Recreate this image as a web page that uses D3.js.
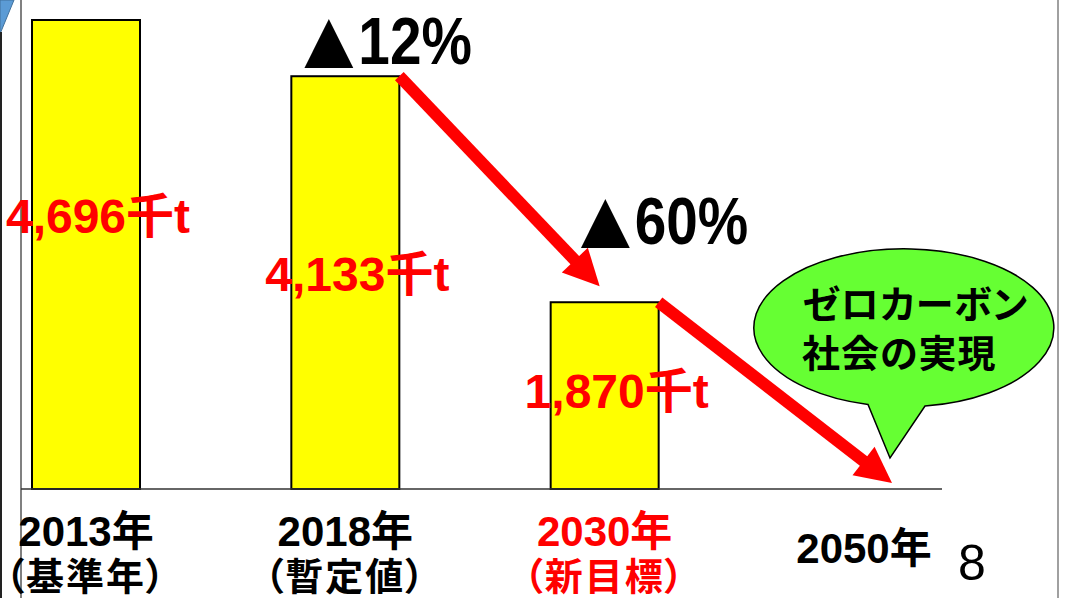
<!DOCTYPE html>
<html>
<head>
<meta charset="utf-8">
<script src="https://cdn.jsdelivr.net/npm/d3@7"></script>
<style>
body { margin: 0; background: #fff; }
svg { display: block; }
text { font-family: "Liberation Sans", "Noto Sans CJK JP", sans-serif; }
.note { font-feature-settings: "palt"; }
.tri { font-family: "DejaVu Sans", "Noto Sans CJK JP", sans-serif; }
</style>
</head>
<body>
<div id="chart"></div>
<script>
// CO2 emissions (thousand t) - base year, provisional, new target, zero carbon
let years = ["2013年", "2018年", "2030年", "2050年"];
let notes = ["（基準年）", "（暫定値）", "（新目標）", ""];
let emissions = [4696, 4133, 1870];
let highlightYear = "2030年";
let bubbleLines = ["ゼロカーボン", "社会の実現"];
let pageNumber = "8";

function graph(id) {
    let width = 1066, height = 598;
    let baseY = 489, topY = 20;
    let barWidth = 108;
    // hand placed label shifts on the slide, relative to bar middle
    let labelShift = [-22, 8, 12];

    let x = d3.scalePoint().domain(years).range([86, 864]);
    let y = d3.scaleLinear().domain([0, d3.max(emissions)]).range([baseY, topY]);
    let fmt = d3.format(",");

    let svg = d3.select(id).append("svg")
            .attr("width", width)
            .attr("height", height);

    // slide frame bits
    svg.append("path")
        .attr("d", "M0,0 L14,0 L0,34 Z")
        .style("fill", "#5b9bd5")
        .style("stroke", "#41719c");
    svg.append("line")
        .attr("x1", 1).attr("x2", 1).attr("y1", 32).attr("y2", height)
        .style("stroke", "#222").style("stroke-width", 2);
    svg.append("line")
        .attr("x1", 21).attr("x2", 21).attr("y1", 0).attr("y2", height)
        .style("stroke", "#808080").style("stroke-width", 2);
    svg.append("line")
        .attr("x1", 1058).attr("x2", 1058).attr("y1", 0).attr("y2", height)
        .style("stroke", "#808080").style("stroke-width", 1.5);

    let data = emissions.map((v, i) => ({year: years[i], value: v}));

    svg.selectAll("rect.bar")
        .data(data)
        .enter()
        .append("rect")
        .attr("class", "bar")
        .attr("x", (d) => x(d.year) - barWidth / 2)
        .attr("y", (d) => y(d.value))
        .attr("width", barWidth)
        .attr("height", (d) => baseY - y(d.value))
        .style("fill", "#ffff00")
        .style("stroke", "#000")
        .style("stroke-width", 2);

    svg.append("line")
        .attr("x1", 21).attr("x2", 942).attr("y1", baseY).attr("y2", baseY)
        .style("stroke", "#333").style("stroke-width", 1.5);

    // arrows between bar tops
    function arrow(x0, y0, x1, y1) {
        let len = Math.hypot(x1 - x0, y1 - y0);
        let ux = (x1 - x0) / len, uy = (y1 - y0) / len;
        let head = 36, half = 18;
        let bx = x1 - ux * head, by = y1 - uy * head;
        svg.append("line")
            .attr("x1", x0).attr("y1", y0).attr("x2", bx + ux * 2).attr("y2", by + uy * 2)
            .style("stroke", "#ff0000").style("stroke-width", 12);
        svg.append("path")
            .attr("d", d3.line()([[x1, y1], [bx - uy * half, by + ux * half], [bx + uy * half, by - ux * half]]) + "Z")
            .style("fill", "#ff0000");
    }
    arrow(x(years[1]) + barWidth / 2, y(emissions[1]), x(years[2]) - 5, y(emissions[2]) - 16);
    arrow(x(years[2]) + barWidth / 2, y(emissions[2]), x(years[3]) + 28, baseY - 6);

    // reduction vs base year
    [1, 2].forEach((i) => {
        let cut = Math.round((emissions[0] - emissions[i]) / emissions[0] * 100);
        let tx = x(years[i]) - barWidth / 2 + (i == 1 ? 13 : 30);
        let ty = y(emissions[i]) - (i == 1 ? 12 : 58);
        let g = svg.append("g").attr("transform", `translate(${tx},${ty})`);
        g.append("text")
            .attr("class", "tri")
            .attr("y", -4)
            .style("font-size", "64px")
            .style("fill", "#000")
            .text("▲");
        g.append("text")
            .attr("x", 54 / 0.86)
            .attr("transform", "scale(0.86,1)")
            .style("font-size", "66px")
            .style("font-weight", "bold")
            .style("fill", "#000")
            .text(cut + "%");
    });

    // value labels
    svg.selectAll("text.val")
        .data(data)
        .enter()
        .append("text")
        .attr("class", "val")
        .attr("x", (d) => x(d.year) + 12)
        .attr("y", (d, i) => (y(d.value) + baseY) / 2 + labelShift[i])
        .attr("text-anchor", "middle")
        .style("font-size", "48px")
        .style("font-weight", "bold")
        .style("fill", "#ff0000")
        .text((d) => fmt(d.value) + "千t");

    // category labels
    years.forEach((yr, i) => {
        let col = yr == highlightYear ? "#ff0000" : "#000";
        svg.append("text")
            .attr("x", x(yr))
            .attr("y", notes[i] ? 546 : 563)
            .attr("text-anchor", "middle")
            .style("font-size", "42px")
            .style("font-weight", "bold")
            .style("fill", col)
            .text(yr);
        if (notes[i]) {
            svg.append("text")
                .attr("class", "note")
                .attr("x", x(yr))
                .attr("y", 590)
                .attr("text-anchor", "middle")
                .style("font-size", "38px")
                .style("font-weight", "bold")
                .style("letter-spacing", "2px")
                .style("fill", col)
                .text(notes[i]);
        }
    });

    // speech bubble
    svg.append("path")
        .attr("d", "M868,404.5 A150,79 0 1 1 925,406 L890,458 Z")
        .style("fill", "#66ff33")
        .style("stroke", "#000")
        .style("stroke-width", 1.5);
    svg.selectAll("text.bubble")
        .data(bubbleLines)
        .enter()
        .append("text")
        .attr("class", "bubble note")
        .attr("x", 802)
        .attr("y", (d, i) => 318 + i * 49)
        .style("font-size", "38px")
        .style("font-weight", "bold")
        .style("letter-spacing", "1px")
        .style("fill", "#000")
        .text((d) => d);

    svg.append("text")
        .attr("x", 958)
        .attr("y", 580)
        .style("font-size", "50px")
        .style("fill", "#000")
        .text(pageNumber);
}

graph("#chart");
</script>
</body>
</html>
